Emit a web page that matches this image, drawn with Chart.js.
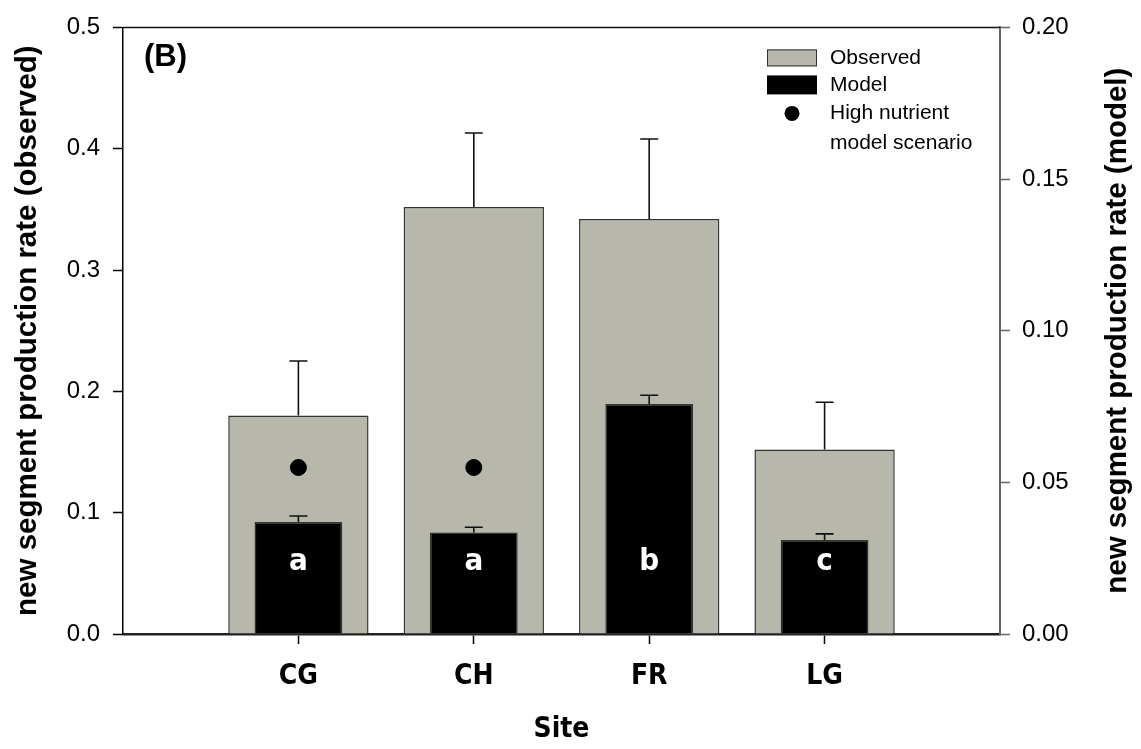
<!DOCTYPE html>
<html>
<head>
<meta charset="utf-8">
<script src="https://cdn.jsdelivr.net/npm/chart.js@4.4.1/dist/chart.umd.min.js"></script>
<style>
  html, body { margin: 0; padding: 0; background: #fff; }
  #wrap { width: 1141px; height: 749px; }
</style>
</head>
<body>
<div id="wrap"><canvas id="c" width="1141" height="749"></canvas></div>
<script>
// Sites and measured / modelled rates
const sites = ['CG', 'CH', 'FR', 'LG'];
const observedRate = [0.180, 0.352, 0.342, 0.152];
const observedSE = [0.045, 0.061, 0.066, 0.039];
const modelRate = [0.0369, 0.0335, 0.0758, 0.0310];
const modelSE = [0.0020, 0.0017, 0.0029, 0.0020];
const highNutrientRate = [0.0549, 0.0549, null, null];
const groupLetters = ['a', 'a', 'b', 'c'];

// the site axis has an empty slot at each end
const pad = arr => [null, ...arr, null];

const GREY = 'rgb(183,183,171)';
const SANS = "'Liberation Sans', Arial, Helvetica, sans-serif";
const NARROW = "'Liberation Sans Narrow', 'DejaVu Sans Condensed', 'Liberation Sans', Arial, sans-serif";
const tickFont = { family: SANS, size: 24 };
const boldNarrow = { family: NARROW, size: 28, weight: 'bold' };
const axisTitleFont = { family: SANS, size: 29.5, weight: 'bold' };

const decorations = {
  id: 'decorations',
  afterDatasetsDraw(chart) {
    const { ctx, scales } = chart;
    ctx.save();
    // upper error bars
    ctx.strokeStyle = '#111';
    ctx.lineWidth = 1.6;
    chart.data.datasets.forEach((ds, i) => {
      if (!ds.err) return;
      const meta = chart.getDatasetMeta(i);
      const ys = scales[ds.yAxisID];
      meta.data.forEach((el, j) => {
        const v = ds.data[j], e = ds.err[j];
        if (v == null || e == null) return;
        const y0 = ys.getPixelForValue(v);
        const y1 = ys.getPixelForValue(v + e);
        ctx.beginPath();
        ctx.moveTo(el.x, y0); ctx.lineTo(el.x, y1);
        ctx.moveTo(el.x - 9, y1); ctx.lineTo(el.x + 9, y1);
        ctx.stroke();
      });
    });
    // significance letters inside the model bars
    ctx.fillStyle = '#fff';
    ctx.font = "bold 31px " + NARROW;
    ctx.textAlign = 'center';
    ctx.textBaseline = 'alphabetic';
    const baseY = scales.y.getPixelForValue(0) - 64;
    groupLetters.forEach((t, k) => {
      ctx.fillText(t, scales.x.getPixelForValue(k + 1), baseY);
    });
    ctx.restore();
  },
  afterDraw(chart) {
    const { ctx, chartArea: a } = chart;
    ctx.save();
    // top frame line
    ctx.strokeStyle = '#111';
    ctx.lineWidth = 1.5;
    ctx.beginPath();
    ctx.moveTo(a.left, a.top); ctx.lineTo(a.right, a.top);
    ctx.stroke();

    // panel tag
    ctx.fillStyle = '#000';
    ctx.font = "bold 31px " + SANS;
    ctx.textAlign = 'left';
    ctx.textBaseline = 'alphabetic';
    ctx.fillText('(B)', a.left + 21, a.top + 39);

    // right axis title, reading bottom to top
    ctx.save();
    ctx.translate(1118, (a.top + a.bottom) / 2);
    ctx.rotate(-Math.PI / 2);
    ctx.font = "bold 29.5px " + SANS;
    ctx.textAlign = 'center';
    ctx.textBaseline = 'middle';
    ctx.fillText('new segment production rate (model)', 0, 0);
    ctx.restore();

    // legend
    const ds = chart.data.datasets;
    const obs = ds.find(d => d.label === 'Observed');
    const mod = ds.find(d => d.label === 'Model');
    const hn = ds.find(d => d.type === 'line');
    const bx = a.right - 233, tx = a.right - 170;
    ctx.font = "21px " + SANS;
    ctx.textBaseline = 'middle';
    ctx.fillStyle = obs.backgroundColor;
    ctx.fillRect(bx, a.top + 22, 50, 17);
    ctx.strokeStyle = '#333';
    ctx.lineWidth = 1;
    ctx.strokeRect(bx + 0.5, a.top + 22.5, 49, 16);
    ctx.fillStyle = '#000';
    ctx.fillText(obs.label, tx, a.top + 31);
    ctx.fillStyle = mod.backgroundColor;
    ctx.fillRect(bx, a.top + 48, 50, 19);
    ctx.fillStyle = '#000';
    ctx.fillText(mod.label, tx, a.top + 57.5);
    ctx.beginPath();
    ctx.arc(bx + 25, a.top + 86, 7.5, 0, Math.PI * 2);
    ctx.fillStyle = hn.pointBackgroundColor;
    ctx.fill();
    ctx.fillStyle = '#000';
    ctx.fillText('High nutrient', tx, a.top + 86);
    ctx.fillText('model scenario', tx, a.top + 115.5);
    ctx.restore();
  }
};

new Chart(document.getElementById('c'), {
  type: 'bar',
  data: {
    labels: ['', ...sites, ''],
    datasets: [
      {
        label: 'High nutrient model scenario',
        type: 'line',
        data: pad(highNutrientRate),
        yAxisID: 'y2',
        showLine: false,
        pointRadius: 8,
        pointBackgroundColor: '#000',
        pointBorderColor: '#000',
        order: 1
      },
      {
        label: 'Model',
        data: pad(modelRate),
        err: pad(modelSE),
        yAxisID: 'y2',
        backgroundColor: '#000',
        borderColor: '#333',
        borderWidth: 1.5,
        categoryPercentage: 1,
        barPercentage: 0.5,
        grouped: false,
        order: 2
      },
      {
        label: 'Observed',
        data: pad(observedRate),
        err: pad(observedSE),
        yAxisID: 'y',
        backgroundColor: GREY,
        borderColor: '#333',
        borderWidth: 1.5,
        categoryPercentage: 1,
        barPercentage: 0.8,
        grouped: false,
        order: 3
      }
    ]
  },
  options: {
    responsive: false,
    animation: false,
    layout: { padding: { top: 21, left: 0, right: 0, bottom: 0 } },
    plugins: { legend: { display: false }, tooltip: { enabled: false } },
    scales: {
      x: {
        offset: false,
        grid: {
          offset: false,
          drawOnChartArea: false,
          drawTicks: true,
          tickLength: 10,
          tickWidth: 1.5,
          tickColor: c => (c.tick && c.tick.label === '') ? 'rgba(0,0,0,0)' : '#000'
        },
        border: { color: '#222', width: 2.5 },
        ticks: { font: boldNarrow, color: '#000', padding: 16, maxRotation: 0, autoSkip: false },
        title: { display: true, text: 'Site', font: boldNarrow, color: '#000', padding: { top: 0, bottom: 2 } },
        afterFit: s => { s.height = 115; }
      },
      y: {
        position: 'left',
        min: 0, max: 0.5,
        ticks: { stepSize: 0.1, callback: v => v.toFixed(1), font: tickFont, color: '#000', padding: 13 },
        grid: { drawOnChartArea: false, tickLength: 10, tickWidth: 1.5, tickColor: '#000' },
        border: { color: '#000', width: 1.5 },
        title: { display: true, text: 'new segment production rate (observed)', font: axisTitleFont, color: '#000', padding: { top: 10 } },
        afterFit: s => { s.width = 123; }
      },
      y2: {
        position: 'right',
        min: 0, max: 0.2,
        ticks: { stepSize: 0.05, callback: v => v.toFixed(2), font: tickFont, color: '#000', padding: 12 },
        grid: { drawOnChartArea: false, tickLength: 10, tickWidth: 1.5, tickColor: '#666' },
        border: { color: '#666', width: 2 },
        afterFit: s => { s.width = 141; }
      }
    }
  },
  plugins: [decorations]
});
</script>
</body>
</html>
